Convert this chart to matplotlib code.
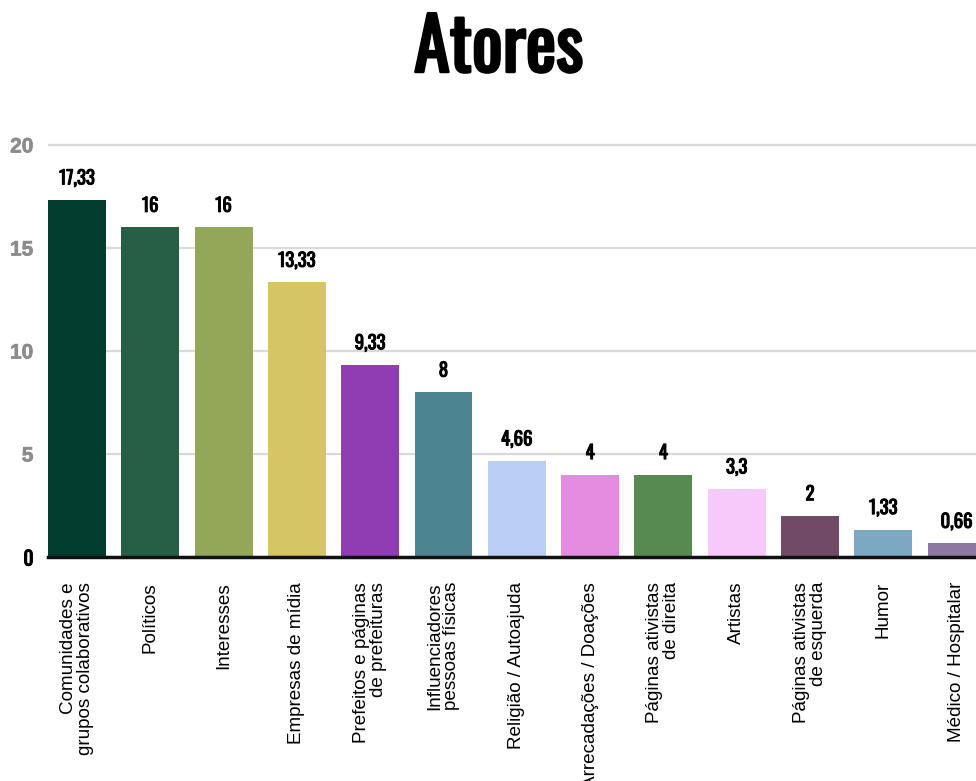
import matplotlib
matplotlib.use("Agg")
import matplotlib.pyplot as plt
import matplotlib.patheffects as pe

categories = [
    "Comunidades e\ngrupos colaborativos",
    "Políticos",
    "Interesses",
    "Empresas de mídia",
    "Prefeitos e páginas\nde prefeituras",
    "Influenciadores\npessoas físicas",
    "Religião / Autoajuda",
    "Arrecadações / Doações",
    "Páginas ativistas\nde direita",
    "Artistas",
    "Páginas ativistas\nde esquerda",
    "Humor",
    "Médico / Hospitalar",
]
values = [17.33, 16, 16, 13.33, 9.33, 8, 4.66, 4, 4, 3.3, 2, 1.33, 0.66]
value_labels = ["17,33", "16", "16", "13,33", "9,33", "8", "4,66", "4", "4",
                "3,3", "2", "1,33", "0,66"]
colors = ["#033d30", "#275e46", "#94a657", "#d5c565", "#8e3db2", "#4c8491",
          "#bacff3", "#e58be0", "#578a50", "#f7c9fa", "#714a68", "#7ca8c4",
          "#8d78a1"]
y_ticks = [0, 5, 10, 15, 20]

display = ["Oswald", "Fira Sans Extra Condensed", "DejaVu Sans"]
plain = ["Liberation Sans", "Arimo", "DejaVu Sans"]


def heavy(width, color):
    # thicken the condensed face with an outline of the same colour
    return [pe.withStroke(linewidth=width, foreground=color)]


fig = plt.figure(figsize=(9.76, 7.81), dpi=100)
ax = fig.add_axes([48 / 976, 1 - 557 / 781, 1 - 48 / 976, (557 - 132.6) / 781])

x = list(range(len(values)))
ax.bar(x, values, width=0.79, color=colors, zorder=3)

ax.set_xlim(-0.395, 12.265)
ax.set_ylim(0, 20.6)
ax.set_yticks(y_ticks)
ax.set_yticklabels([str(t) for t in y_ticks])
for lbl, t in zip(ax.get_yticklabels(), y_ticks):
    if t == 0:
        lbl.set_fontfamily(display)
        lbl.set_fontsize(14)
        lbl.set_color("#000000")
        lbl.set_path_effects(heavy(0.8, "#000000"))
    else:
        lbl.set_fontfamily(plain)
        lbl.set_fontweight("bold")
        lbl.set_fontsize(15)
        lbl.set_color("#8c8c8c")
        lbl.set_path_effects(heavy(0.5, "#8c8c8c"))
ax.tick_params(axis="y", length=0, pad=10.5)
ax.tick_params(axis="x", length=0, pad=18)
ax.grid(axis="y", color="#d9d9d9", linewidth=1.6, zorder=0)
ax.grid(axis="x", visible=False)
for s in ["top", "right", "left"]:
    ax.spines[s].set_visible(False)
ax.spines["bottom"].set_color("#111111")
ax.spines["bottom"].set_linewidth(2.5)
ax.spines["bottom"].set_zorder(4)

ax.set_xticks(x)
ax.set_xticklabels(categories, rotation=90, fontfamily=plain, fontsize=13.6,
                   ha="center", va="top", multialignment="right",
                   linespacing=0.98)

for xi, v, t in zip(x, values, value_labels):
    ax.annotate(t, (xi, v), xytext=(0, 9), textcoords="offset points",
                ha="center", va="bottom", fontfamily=display,
                fontsize=13.5, color="#000000", zorder=5,
                path_effects=heavy(0.7, "#000000"))

fig.text(0.511, 0.908, "Atores", ha="center", va="baseline", fontfamily=display,
         fontsize=52, color="#000000", path_effects=heavy(2.0, "#000000"))

fig.savefig("out.png", dpi=100, facecolor="white")
